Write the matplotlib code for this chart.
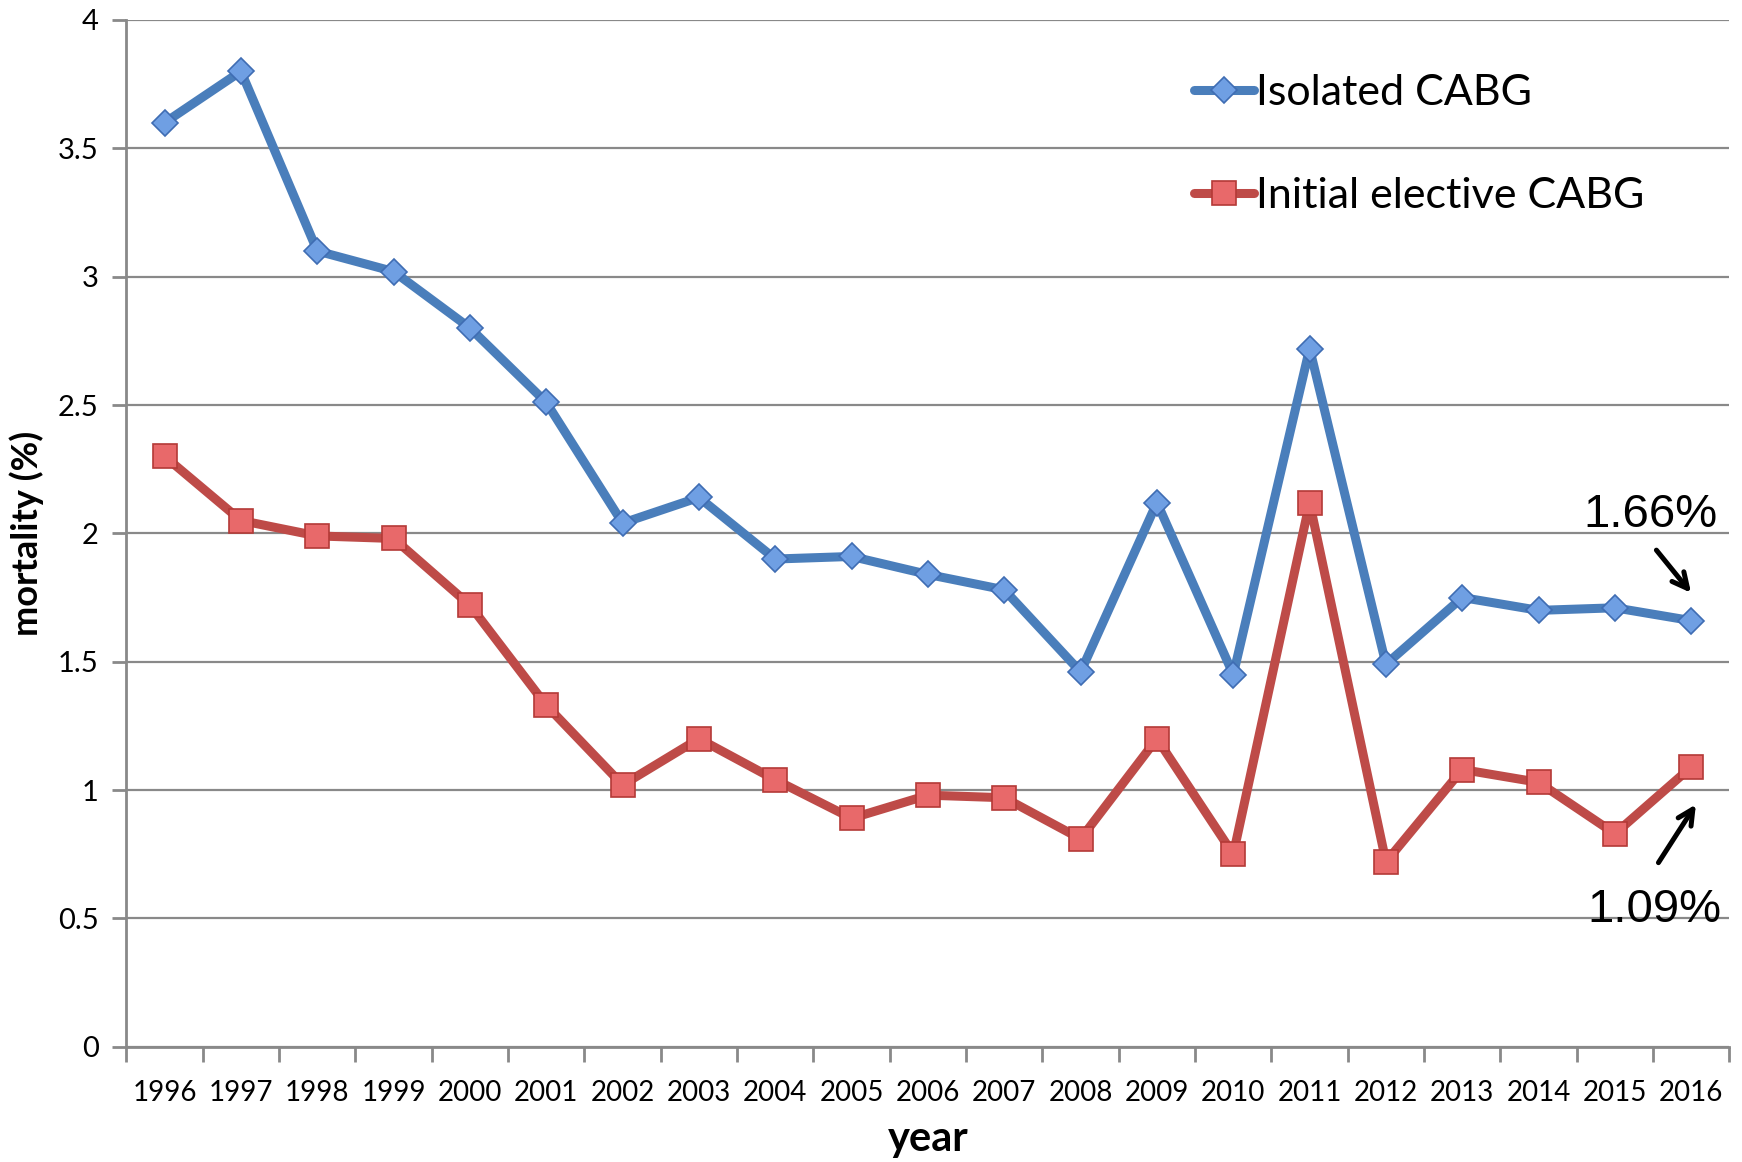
import matplotlib
matplotlib.use("Agg")
import matplotlib.pyplot as plt
import numpy as np

years = ["1996", "1997", "1998", "1999", "2000", "2001", "2002", "2003", "2004", "2005",
         "2006", "2007", "2008", "2009", "2010", "2011", "2012", "2013", "2014", "2015", "2016"]
isolated_cabg = [3.60, 3.80, 3.10, 3.02, 2.80, 2.51, 2.04, 2.14, 1.90, 1.91,
                 1.84, 1.78, 1.46, 2.12, 1.45, 2.72, 1.49, 1.75, 1.70, 1.71, 1.66]
initial_elective_cabg = [2.30, 2.05, 1.99, 1.98, 1.72, 1.33, 1.02, 1.20, 1.04, 0.89,
                         0.98, 0.97, 0.81, 1.20, 0.75, 2.12, 0.72, 1.08, 1.03, 0.83, 1.09]
y_ticks = [0, 0.5, 1, 1.5, 2, 2.5, 3, 3.5, 4]
y_tick_labels = ["0", "0.5", "1", "1.5", "2", "2.5", "3", "3.5", "4"]
series_names = ["Isolated CABG", "Initial elective CABG"]

plt.rcParams['font.family'] = ['Lato', 'DejaVu Sans']

fig = plt.figure(figsize=(17.42, 11.62), dpi=100)
ax = fig.add_axes([0.0726, 0.0992, 0.9928 - 0.0726, 0.9828 - 0.0992])

x = np.arange(len(years))
grid_c = "#898989"

ax.plot(x, isolated_cabg, color="#4A7EBB", lw=6.5, marker="D", ms=13.5,
        mfc="#6F9FE3", mec="#3F6DB3", mew=1.2, label=series_names[0], zorder=3,
        solid_joinstyle="round", solid_capstyle="round")
ax.plot(x, initial_elective_cabg, color="#BE4B48", lw=6.5, marker="s", ms=17,
        mfc="#E8696A", mec="#B43A37", mew=1.2, label=series_names[1], zorder=3,
        solid_joinstyle="round", solid_capstyle="round")

ax.set_xlim(-0.5, len(years) - 0.5)
ax.set_ylim(0, 4)
ax.set_yticks(y_ticks)
ax.set_yticklabels(y_tick_labels, fontsize=21)
ax.set_xticks(x)
ax.set_xticklabels(years, fontsize=20)
ax.set_xticks(np.arange(-0.5, len(years), 1.0), minor=True)
ax.tick_params(axis="x", which="major", length=0, pad=24)
ax.tick_params(axis="x", which="minor", length=11, width=2, color=grid_c)
ax.tick_params(axis="y", which="major", length=10, width=2, color=grid_c, pad=10)

ax.yaxis.grid(True, color=grid_c, lw=1.6)
ax.set_axisbelow(True)
for s in ["top", "right"]:
    ax.spines[s].set_visible(False)
for s in ["left", "bottom"]:
    ax.spines[s].set_color(grid_c)
    ax.spines[s].set_linewidth(2)

ax.set_ylabel("mortality (%)", fontsize=26, fontweight="bold", labelpad=10)
ax.set_xlabel("year", fontsize=30, fontweight="bold", labelpad=10)

leg = ax.legend(loc="upper left", bbox_to_anchor=(1194 / 1742, 1 - 74 / 1162),
                bbox_transform=fig.transFigure, frameon=False, fontsize=31,
                handlelength=1.4, handletextpad=0.03, labelspacing=1.5,
                borderpad=0, borderaxespad=0)

arrow_props = dict(arrowstyle="->,head_length=1.1,head_width=0.55", color="black", lw=3.6)
ax.annotate("", xy=(20.02, 1.76), xytext=(19.52, 1.943), arrowprops=arrow_props)
ax.annotate("", xy=(20.08, 0.953), xytext=(19.55, 0.708), arrowprops=arrow_props)
ax.text(20.34, 2.025, "1.66%", ha="right", va="baseline", fontsize=34,
        family=["Liberation Sans", "DejaVu Sans"])
ax.text(20.40, 0.486, "1.09%", ha="right", va="baseline", fontsize=34,
        family=["Liberation Sans", "DejaVu Sans"])

fig.savefig("out.png", dpi=100)
